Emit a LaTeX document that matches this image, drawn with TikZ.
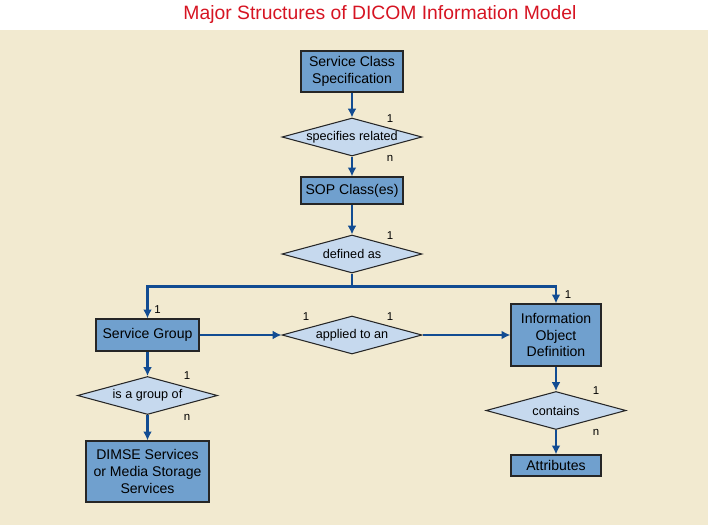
\documentclass[tikz,border=0pt]{standalone}
\usepackage{fontspec}
\setmainfont{Liberation Sans}
\usetikzlibrary{shapes.geometric,arrows.meta,calc}
\definecolor{panel}{RGB}{242,234,208}
\definecolor{boxblue}{RGB}{112,160,206}
\definecolor{dialight}{RGB}{198,217,238}
\definecolor{linkblue}{RGB}{18,76,146}
\definecolor{titlered}{RGB}{214,20,34}

\begin{document}
\begin{tikzpicture}[x=0.02cm, y=-0.02cm,
  entity/.style={draw=black!85, line width=0.7pt, fill=boxblue, align=center, inner sep=0pt, font=\fontsize{8}{9.6}\selectfont},
  relation/.style={diamond, draw=black!85, line width=0.6pt, fill=dialight, aspect=3.7, inner sep=0pt, minimum width=2.8cm, minimum height=0.76cm, font=\fontsize{7.2}{8.6}\selectfont},
  link/.style={draw=linkblue, line width=1.7pt},
  arr/.style={link, -{Latex[length=5pt,width=5pt]}},
  card/.style={font=\fontsize{6.5}{7}\selectfont, inner sep=0pt}]

\fill[panel] (0,30) rectangle (708,525);
\useasboundingbox (0,0) rectangle (708,525);
\node[text=titlered, font=\fontsize{11}{13}\selectfont] (title) at (380,14) {Major Structures of DICOM Information Model};

% boxes and relations
\node[entity, minimum width=2.04cm, minimum height=0.82cm] (scs) at (352,71.5) {Service Class\\Specification};
\node[relation] (spec) at (352,137) {specifies related};
\node[entity, minimum width=2.04cm, minimum height=0.54cm] (sop) at (352,190.5) {SOP Class(es)};
\node[relation] (defas) at (352,254) {defined as};
\node[entity, minimum width=2.06cm, minimum height=0.64cm] (sg) at (147.5,335) {Service Group};
\node[relation] (appl) at (352,335) {applied to an};
\node[entity, minimum width=1.8cm, minimum height=1.24cm] (iod) at (556,335) {Information\\Object\\Definition};
\node[relation] (cont) at (556,410.5) {contains};
\node[entity, minimum width=1.8cm, minimum height=0.42cm] (attr) at (556,465.5) {Attributes};
\node[relation] (grp) at (147.5,395.5) {is a group of};
\node[entity, minimum width=2.46cm, minimum height=1.22cm] (dimse) at (147.5,471.5) {DIMSE Services\\or Media Storage\\Services};

% connectors
\draw[arr] (scs) -- (spec);
\draw[arr] (spec) -- (sop);
\draw[arr] (sop) -- (defas);
\draw[link] (defas.south) -- ++(0,13) coordinate (fork);
\draw[arr] (fork) -| (sg.north);
\draw[arr] (fork) -| (iod.north);
\draw[arr] (sg) -- (appl);
\draw[arr] (appl) -- (iod);
\draw[arr] (iod) -- (cont);
\draw[arr] (cont) -- (attr);
\draw[arr] (sg) -- (grp);
\draw[arr] (grp) -- (dimse);

% cardinalities
\node[card] (specone) at ($(spec.north)+(38,1.5)$) {1};
\node[card] (specn) at ($(spec.south)+(38,1.5)$) {n};
\node[card] (defone) at ($(defas.north)+(38,1.5)$) {1};
\node[card] (sgone) at ($(sg.north)+(10,-9)$) {1};
\node[card] (iodone) at ($(iod.north)+(12,-9)$) {1};
\node[card] (applleft) at ($(appl.north)+(-46,1)$) {1};
\node[card] (applright) at ($(appl.north)+(38,1)$) {1};
\node[card] (contone) at ($(cont.north)+(40,0)$) {1};
\node[card] (contn) at ($(cont.south)+(40,2)$) {n};
\node[card] (grpone) at ($(grp.north)+(39.5,0)$) {1};
\node[card] (grpn) at ($(grp.south)+(39.5,2)$) {n};
\end{tikzpicture}
\end{document}
